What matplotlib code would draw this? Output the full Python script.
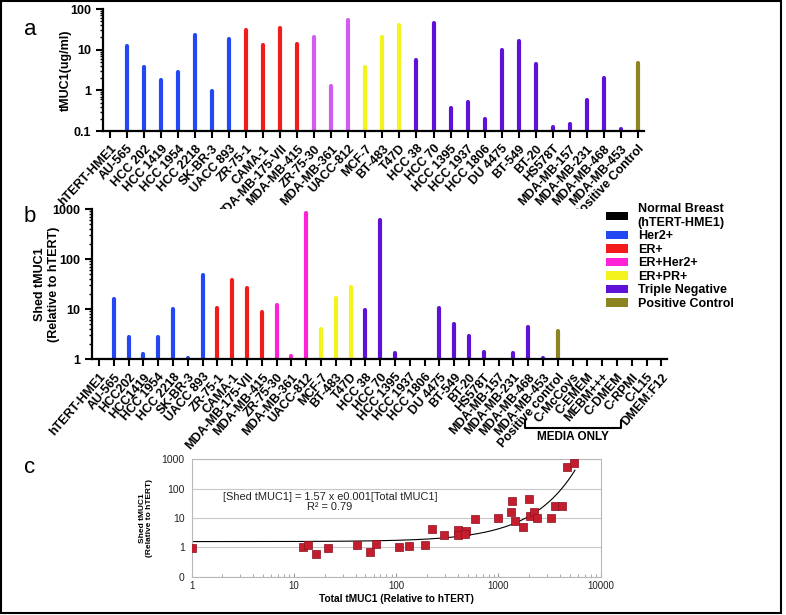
import numpy as np
import matplotlib.pyplot as plt
from matplotlib.patches import Patch, Rectangle

plt.rcParams['font.family'] = ['Liberation Sans', 'DejaVu Sans']

# ---- datos panel a (tMUC1 total, ug/ml) ----
cells_a = ["hTERT-HME1", "AU-565", "HCC 202", "HCC 1419", "HCC 1954", "HCC 2218", "SK-BR-3",
           "UACC 893", "ZR-75-1", "CAMA-1", "MDA-MB-175-VII", "MDA-MB-415", "ZR-75-30",
           "MDA-MB-361", "UACC-812", "MCF-7", "BT-483", "T47D", "HCC 38", "HCC 70", "HCC 1395",
           "HCC 1937", "HCC 1806", "DU 4475", "BT-549", "BT-20", "HS578T", "MDA-MB-157",
           "MDA-MB-231", "MDA-MB-468", "MDA-MB-453", "Positive Control"]
total_a = [0, 12.5, 3.8, 1.75, 2.8, 22.5, 0.97, 18.7, 31, 12.8, 35, 13.5, 20.5, 1.25, 53,
           3.8, 21, 41, 5.5, 44, 0.37, 0.52, 0.2, 9.7, 16.4, 4.4, 0.125, 0.15, 0.58, 2.05,
           0.115, 4.7]
groups_a = (["normal"] + ["her2"] * 7 + ["er"] * 4 + ["erher2"] * 3 + ["erpr"] * 3
            + ["tn"] * 13 + ["pos"])

# ---- datos panel b (tMUC1 liberado, relativo a hTERT) ----
cells_b = ["hTERT-HME1", "AU-565", "HCC202", "HCC1419", "HCC 1954", "HCC 2218", "SK-BR-3",
           "UACC 893", "ZR-75-1", "CAMA-1", "MDA-MB-175-VII", "MDA-MB-415", "ZR-75-30",
           "MDA-MB-361", "UACC-812", "MCF-7", "BT-483", "T47D", "HCC 38", "HCC 70", "HCC 1395",
           "HCC 1937", "HCC 1806", "DU 4475", "BT-549", "BT-20", "HS578T", "MDA-MB-157",
           "MDA-MB-231", "MDA-MB-468", "MDA-MB-453", "Positive control", "C-McCoys", "C-EMEM",
           "MEBM+++", "C-DMEM", "C-RPMI", "C-L15", "DMEM:F12"]
shed_b = [0, 16, 2.75, 1.28, 2.75, 10.2, 1.08, 48.6, 10.5, 38.6, 25.9, 8.6, 12, 1.17, 850,
          4.0, 16.5, 27.5, 9.7, 590, 1.32, 0, 0, 10.8, 5.0, 2.9, 1.38, 0, 1.36, 4.4, 1.05,
          3.7, 0, 0, 0, 0, 0, 0, 0]
groups_b = groups_a + ["media"] * 7

# ---- datos panel c (total vs liberado) ----
total_c = [1.0, 12.3, 13.8, 16.6, 21.6, 41, 55, 63, 106, 133, 190, 224, 295, 402, 402, 485,
           470, 590, 1000, 1343, 1333, 1437, 1737, 2000, 2050, 2240, 2400, 3240, 3610, 4200,
           4660, 5530]
shed_c = [0.97, 1.02, 1.25, 0.6, 0.95, 1.23, 0.69, 1.3, 1.0, 1.08, 1.22, 4.2, 2.6, 3.8, 2.7,
          3.6, 2.8, 9.25, 10, 37, 15.7, 8.1, 4.8, 44.5, 12, 15.7, 10, 10, 25, 26.3, 540, 755]

legend_labels = ["Normal Breast\n(hTERT-HME1)", "Her2+", "ER+", "ER+Her2+", "ER+PR+",
                 "Triple Negative", "Positive Control"]
legend_keys = ["normal", "her2", "er", "erher2", "erpr", "tn", "pos"]

colores = {"normal": "black", "her2": "#2347f0", "er": "#f21c1c", "erher2": "#ff22d8",
           "erpr": "#f4f41c", "tn": "#5e12d8", "pos": "#8c8420", "media": "white"}
colores_a = dict(colores, erher2="#d05cf2")

fig = plt.figure(figsize=(7.86, 6.15), dpi=100)
W, H = 786.0, 615.0


def bar_panel(ax, values, groups, cmap):
    values = np.array(values, dtype=float)
    x = np.arange(len(values))
    ok = values > 0
    lines = ax.vlines(x[ok], ax.get_ylim()[0], values[ok],
                      colors=[cmap[g] for g, k in zip(groups, ok) if k], linewidth=3.0)
    lines.set_capstyle("round")
    for s in ["top", "right"]:
        ax.spines[s].set_visible(False)
    for s in ["left", "bottom"]:
        ax.spines[s].set_linewidth(1.6)
    ax.tick_params(axis="both", which="major", direction="out", length=5, width=1.5,
                   labelsize=9)
    ax.tick_params(axis="y", which="minor", length=2.5, width=1.0)
    for lab in ax.get_xticklabels() + ax.get_yticklabels():
        lab.set_fontweight("bold")


# panel a
ax_a = fig.add_axes([103 / W, 1 - 131 / H, 541 / W, 122 / H])
ax_a.set_yscale("log")
ax_a.set_ylim(0.1, 100)
ax_a.set_xlim(-0.41, 31.36)
ax_a.set_yticks([0.1, 1, 10, 100])
ax_a.set_yticklabels(["0.1", "1", "10", "100"])
ax_a.set_xticks(np.arange(len(cells_a)))
ax_a.set_xticklabels(cells_a, rotation=47, ha="right", rotation_mode="anchor")
bar_panel(ax_a, total_a, groups_a, colores_a)
ax_a.set_ylabel("tMUC1(ug/ml)", fontsize=9, fontweight="bold")
ax_a.yaxis.set_label_coords(-0.058, 0.5)

# panel b
ax_b = fig.add_axes([92 / W, 1 - 359.3 / H, 575 / W, 150.3 / H])
ax_b.set_yscale("log")
ax_b.set_ylim(1, 1000)
ax_b.set_xlim(-0.47, 38.38)
ax_b.set_yticks([1, 10, 100, 1000])
ax_b.set_yticklabels(["1", "10", "100", "1000"])
ax_b.set_xticks(np.arange(len(cells_b)))
ax_b.set_xticklabels(cells_b, rotation=49, ha="right", rotation_mode="anchor")
bar_panel(ax_b, shed_b, groups_b, colores)
ax_b.set_ylabel("Shed tMUC1\n(Relative to hTERT)", fontsize=9, fontweight="bold")
ax_b.yaxis.set_label_coords(-0.056, 0.5)

# corchete MEDIA ONLY
i0 = cells_b.index("C-McCoys")
i1 = len(cells_b) - 1
tr = ax_b.get_xaxis_transform()
xl, xr = i0 - 3.22, i1 - 2.7
ax_b.plot([xl, xl, xr, xr], [-0.41, -0.457, -0.457, -0.41], color="black", lw=1.5,
          transform=tr, clip_on=False)
ax_b.text((xl + xr) / 2, -0.54, "MEDIA ONLY", transform=tr, ha="center", va="baseline",
          fontsize=8.5, fontweight="bold")

# leyenda
handles = [Patch(facecolor=colores[k], edgecolor="none") for k in legend_keys]
fig.legend(handles, legend_labels, loc="upper left", bbox_to_anchor=(606 / W, 1 - 203 / H),
           frameon=False, prop={"size": 9, "weight": "bold"}, handlelength=1.75,
           handleheight=0.67, handletextpad=0.8, labelspacing=0.12, borderpad=0,
           borderaxespad=0)

# panel c
ax_c = fig.add_axes([191.7 / W, 1 - 576.7 / H, 409 / W, 117.4 / H])
ax_c.set_xscale("log")
ax_c.set_yscale("log")
ax_c.set_xlim(1, 10000)
ax_c.set_ylim(0.1, 1000)
ax_c.set_yticks([0.1, 1, 10, 100, 1000])
ax_c.set_yticklabels(["0", "1", "10", "100", "1000"])
ax_c.set_xticks([1, 10, 100, 1000, 10000])
ax_c.set_xticklabels(["1", "10", "100", "1000", "10000"])
ax_c.yaxis.set_minor_locator(plt.NullLocator())
ax_c.grid(axis="y", which="major", color="#c8c8c8", lw=0.8)
for s in ax_c.spines.values():
    s.set_color("#b8b8b8")
    s.set_linewidth(0.8)
ax_c.tick_params(axis="y", which="major", length=0, labelsize=7.5, labelcolor="#222222", pad=5)
ax_c.tick_params(axis="x", which="major", direction="in", length=3, color="#999999",
                 labelsize=7, labelcolor="#222222", pad=3)
ax_c.tick_params(axis="x", which="minor", direction="in", length=2, color="#999999")

x_fit = np.logspace(0, np.log10(5600), 300)
ax_c.plot(x_fit, 1.57 * np.exp(0.001 * x_fit), color="black", lw=0.8, zorder=2)
ax_c.scatter(total_c, shed_c, marker="s", s=30, color="#c41e2e", edgecolor="#8a1020",
             linewidth=0.5, zorder=3)

ax_c.text(0.0765, 0.681, "[Shed tMUC1] = 1.57 x e0.001[Total tMUC1]", transform=ax_c.transAxes,
          fontsize=7.9, ha="left", va="center", color="#222222")
ax_c.text(0.338, 0.594, "R\u00b2 = 0.79", transform=ax_c.transAxes, fontsize=7.9,
          ha="center", va="center", color="#222222")

fig.text(146 / W, 1 - 518 / H, "Shed tMUC1\n(Relative to hTERT)", rotation=90, fontsize=6,
         fontweight="bold", ha="center", va="center", linespacing=1.1)
fig.text(396 / W, 1 - 599 / H, "Total tMUC1 (Relative to hTERT)", fontsize=7.3,
         fontweight="bold", ha="center", va="center")

# letras de panel
fig.text(30 / W, 1 - 35 / H, "a", fontsize=16, ha="center", va="baseline")
fig.text(30 / W, 1 - 222 / H, "b", fontsize=16, ha="center", va="baseline")
fig.text(30 / W, 1 - 473 / H, "c", fontsize=16, ha="center", va="baseline")

# marco
fig.add_artist(Rectangle((0.001, 2 / H), 780 / W, 1 - 2 / H - 0.001, transform=fig.transFigure,
                         fill=False, lw=1.5, ec="black"))

fig.savefig("out.png", dpi=100)
